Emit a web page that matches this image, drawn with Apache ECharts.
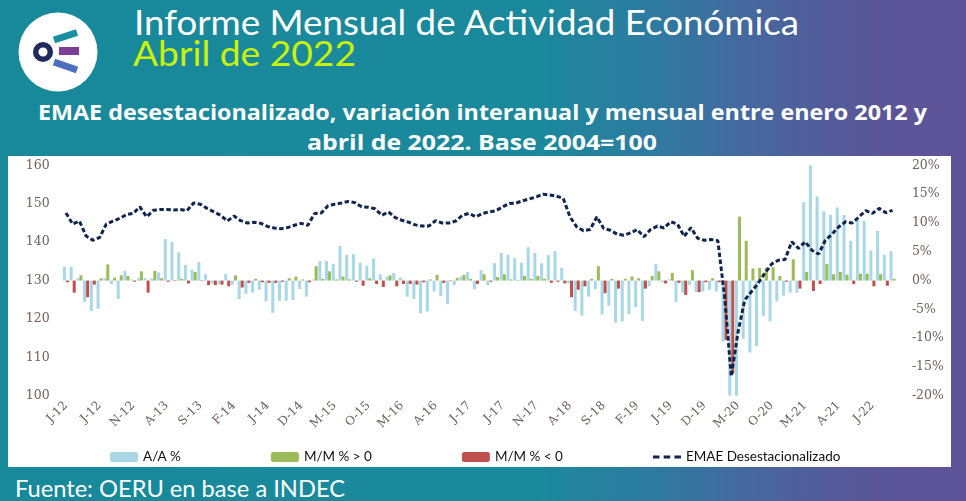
<!DOCTYPE html>
<html>
<head>
<meta charset="utf-8">
<script src="https://cdn.jsdelivr.net/npm/echarts@6/dist/echarts.min.js"></script>
<style>
html,body{margin:0;padding:0;width:966px;height:501px;overflow:hidden;background:#178a9b;}
#bg{position:absolute;left:0;top:0;width:966px;height:501px;
 background:linear-gradient(to right,#17899a 0%,#1b899c 56%,#2f7aa0 68%,#46679f 78%,#5a5698 90%,#5e5399 100%);}
#box{position:absolute;left:8px;top:156px;width:943px;height:311px;background:#fff;}
#chart{position:absolute;left:0;top:0;width:966px;height:501px;}
.t{position:absolute;white-space:nowrap;transform-origin:0 0;line-height:1;font-family:Lato,'Open Sans',sans-serif;}
#h1{left:134px;top:4px;font-size:35px;color:#ffffff;}
#h2{left:133px;top:36px;font-size:34px;color:#c8f20a;}
#src{left:15px;top:476px;font-size:24px;color:#ffffff;}
.ct{font-family:'Open Sans',Lato,sans-serif;font-weight:bold;font-size:22px;color:#ffffff;}
#ct1{left:38px;top:100px;}
#ct2{left:307px;top:130px;}
</style>
</head>
<body>
<div id="bg"></div>
<svg style="position:absolute;left:0;top:0" width="110" height="100">
  <circle cx="58" cy="52" r="39.5" fill="#ffffff"/>
  <line x1="54" y1="40" x2="77" y2="32.5" stroke="#1a8fa1" stroke-width="7"/>
  <line x1="59" y1="51" x2="79" y2="51" stroke="#7b3f98" stroke-width="8"/>
  <line x1="54" y1="62" x2="77" y2="70" stroke="#4d6fbe" stroke-width="7"/>
  <circle cx="43" cy="52" r="7.3" fill="#ffffff" stroke="#1f2a5e" stroke-width="5.5"/>
</svg>
<div id="box"></div>
<div class="t" id="h1">Informe Mensual de Actividad Económica</div>
<div class="t" id="h2">Abril de 2022</div>
<div class="t ct" id="ct1">EMAE desestacionalizado, variación interanual y mensual entre enero 2012 y</div>
<div class="t ct" id="ct2">abril de 2022. Base 2004=100</div>
<div class="t" id="src">Fuente: OERU en base a INDEC</div>
<div id="chart"></div>
<script>
// ---- data (Jan 2012 .. Apr 2022) ----
const categories = [
 "J-12","F-12","M-12","A-12","M-12","J-12","J-12","A-12","S-12","O-12","N-12","D-12",
 "J-13","F-13","M-13","A-13","M-13","J-13","J-13","A-13","S-13","O-13","N-13","D-13",
 "J-14","F-14","M-14","A-14","M-14","J-14","J-14","A-14","S-14","O-14","N-14","D-14",
 "J-15","F-15","M-15","A-15","M-15","J-15","J-15","A-15","S-15","O-15","N-15","D-15",
 "J-16","F-16","M-16","A-16","M-16","J-16","J-16","A-16","S-16","O-16","N-16","D-16",
 "J-17","F-17","M-17","A-17","M-17","J-17","J-17","A-17","S-17","O-17","N-17","D-17",
 "J-18","F-18","M-18","A-18","M-18","J-18","J-18","A-18","S-18","O-18","N-18","D-18",
 "J-19","F-19","M-19","A-19","M-19","J-19","J-19","A-19","S-19","O-19","N-19","D-19",
 "J-20","F-20","M-20","A-20","M-20","J-20","J-20","A-20","S-20","O-20","N-20","D-20",
 "J-21","F-21","M-21","A-21","M-21","J-21","J-21","A-21","S-21","O-21","N-21","D-21",
 "J-22","F-22","M-22","A-22"
];
// EMAE desestacionalizado (left axis)
const emae = [
 147.6,144.7,145.5,141.6,140.5,141.2,144.7,145.5,146.2,147.2,147.5,149.2,
 146.6,148.3,148.5,148.5,148.4,148.5,148.2,150.2,149.9,148.8,147.9,147.0,
 145.5,146.8,145.6,145.0,145.2,144.9,144.1,143.7,143.5,143.8,144.4,144.9,
 144.4,147.5,147.6,149.5,149.9,150.2,150.6,150.3,149.2,149.1,148.7,147.0,
 147.9,146.4,145.7,145.2,144.5,144.2,144.2,145.6,145.0,145.0,145.5,147.0,
 147.5,146.6,147.5,147.9,148.2,149.2,150.1,150.2,150.8,151.3,151.8,152.5,
 152.3,152.0,151.4,146.6,144.0,143.0,143.3,146.6,143.6,143.1,142.1,141.8,
 142.4,143.3,141.4,143.3,144.2,143.7,145.3,144.7,141.5,143.8,141.0,140.5,
 140.7,140.4,126.0,105.0,116.5,124.9,127.1,129.3,131.9,134.3,135.3,135.5,
 140.1,138.4,140.1,137.9,136.9,140.5,142.1,144.0,145.3,145.0,146.6,148.2,
 147.5,148.8,147.7,148.3
];
// Variación interanual A/A % (right axis)
const aa = [
 2.4,2.4,0.4,-3.7,-5.3,-4.9,0.4,-0.6,-3.2,1.7,0.2,0.4,
 0.4,0.4,1.4,7.2,6.7,4.9,2.7,1.9,3.2,1.1,-0.5,-0.6,
 1.1,-0.7,-3.2,-2.3,-2.1,-1.6,-3.6,-5.6,-3.5,-3.5,-3.4,-1.5,
 -2.8,0.2,3.4,3.4,2.9,6.0,4.5,4.6,3.1,2.6,3.8,1.1,
 0.7,1.3,0.5,-2.8,-3.2,-5.7,-5.4,-1.9,-2.7,-4.1,-0.8,0.7,
 1.5,-1.5,1.8,-0.8,3.0,4.8,4.5,3.9,3.1,5.8,4.8,3.0,
 4.4,5.1,2.2,-0.5,-5.3,-6.1,-2.8,-1.5,-5.9,-4.4,-7.3,-7.1,
 -5.8,-4.6,-7.0,-1.0,2.9,-0.3,0.2,-3.7,-2.1,-0.8,-2.0,-1.9,
 -1.6,-1.9,-10.6,-20.0,-20.0,-10.1,-12.5,-11.4,-6.2,-7.1,-3.6,-2.6,
 -2.1,-2.1,13.6,20.0,14.6,12.0,11.4,12.7,11.4,6.9,10.8,10.4,
 5.2,8.6,4.5,5.1
];
// Variación mensual M/M % (right axis)
const mm = [
 -0.3,-2.1,0.9,-2.9,-0.7,0.4,2.8,0.5,0.9,0.8,-0.2,1.6,
 -2.1,1.7,0.4,-0.2,-0.1,0.3,-0.5,1.5,-0.1,-0.8,-0.8,-0.7,
 -1.0,0.9,-1.2,-0.4,0.3,-0.3,-0.4,-0.4,-0.2,0.4,0.7,0.2,
 -0.3,2.5,0.3,1.6,0.2,0.7,0.2,-0.2,-0.9,0.4,-0.6,-1.1,
 0.9,-1.0,-0.6,-0.6,-0.7,-0.3,0.2,1.0,-0.4,-0.1,0.4,1.0,
 0.3,-0.6,1.1,-0.2,0.6,1.1,0.2,0.1,0.8,0.3,0.8,0.3,
 -0.4,-0.2,-0.5,-2.9,-1.6,-1.0,0.3,2.5,-2.2,0.3,-1.4,0.3,
 0.7,0.4,-1.4,0.8,1.6,-0.5,1.3,-0.4,-2.5,1.8,-2.0,-0.3,
 0.4,-0.3,-10.3,-16.2,11.1,6.9,2.1,2.2,2.2,2.3,0.8,-0.2,
 3.7,-1.4,1.5,-1.8,-0.6,2.9,1.1,1.5,1.0,-0.6,1.2,1.2,
 -1.0,1.1,-0.9,0.3
];
const leftTicks = {min:100, max:160, interval:10};
const rightTicks = {min:-20, max:20, interval:5};
const seriesNames = ['A/A %','M/M % > 0','M/M % < 0','EMAE Desestacionalizado'];

// fit header texts to the reference widths
function fit(id, w){
  const el = document.getElementById(id);
  const cur = el.getBoundingClientRect().width;
  if (cur > 0) el.style.transform = 'scaleX(' + (w/cur) + ')';
}
fit('h1', 665); fit('h2', 223); fit('src', 330); fit('ct1', 889); fit('ct2', 350);

const mmPos = mm.map(v => v > 0 ? v : null);
const mmNeg = mm.map(v => v < 0 ? v : null);

const lineColor = '#11254f';
const axisFont = {fontFamily:'DejaVu Serif', fontSize:12.5, color:'#6f625a'};
const chart = echarts.init(document.getElementById('chart'), null, {renderer:'canvas'});
chart.setOption({
  animation:false,
  backgroundColor:'transparent',
  legend:{
    left:105, top:445, itemWidth:28, itemHeight:10, itemGap:90,
    textStyle:{fontFamily:'Lato', fontSize:13.5, color:'#111'},
    data:[
      {name:seriesNames[0]},
      {name:seriesNames[1]},
      {name:seriesNames[2]},
      {name:seriesNames[3], icon:'path://M0,0h6.5v3h-6.5zM10.75,0h6.5v3h-6.5zM21.5,0h6.5v3h-6.5z'}
    ]
  },
  grid:{left:62.6, right:70.1, top:165.4, bottom:105.3, containLabel:false},
  xAxis:{
    type:'category', data:categories, boundaryGap:true,
    axisLine:{show:false}, axisTick:{show:false}, splitLine:{show:false},
    axisLabel:Object.assign({interval:4, rotate:45, margin:8}, axisFont, {fontSize:12})
  },
  yAxis:[
    Object.assign({type:'value', position:'left', axisLine:{show:false}, axisTick:{show:false},
      splitLine:{show:false}, axisLabel:Object.assign({margin:13}, axisFont)}, leftTicks),
    Object.assign({type:'value', position:'right', axisLine:{show:false}, axisTick:{show:false},
      splitLine:{show:false}, axisLabel:Object.assign({margin:16, formatter:'{value}%'}, axisFont)}, rightTicks)
  ],
  series:[
    {name:seriesNames[0], type:'bar', yAxisIndex:1, data:aa, barGap:'0%', barCategoryGap:'10%',
     itemStyle:{color:'#a8d8e6'}},
    {name:seriesNames[1], type:'bar', yAxisIndex:1, stack:'mm', data:mmPos, barGap:'0%', barCategoryGap:'10%',
     itemStyle:{color:'#9bbb59'}},
    {name:seriesNames[2], type:'bar', yAxisIndex:1, stack:'mm', data:mmNeg, barGap:'0%', barCategoryGap:'10%',
     itemStyle:{color:'#c0504d'}},
    {name:seriesNames[3], type:'line', yAxisIndex:0, data:emae, symbol:'none', z:5,
     lineStyle:{type:[4.5,2.5], width:3, color:lineColor}, itemStyle:{color:lineColor}}
  ]
});
</script>
</body>
</html>
